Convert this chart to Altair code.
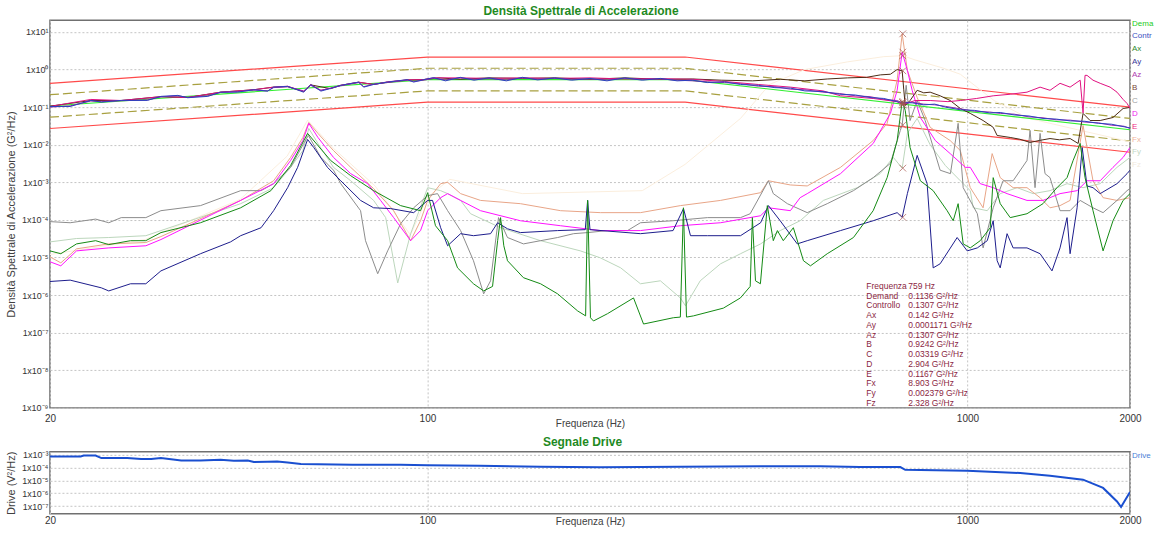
import altair as alt
import pandas as pd

FONT = "Liberation Sans"

# ---------------- profile (Demand) and tolerance lines ----------------
prof_f = [20, 100, 300, 2000]
demand_v = [0.107, 0.54, 0.54, 0.025]
abort_hi_v = [0.43, 2.15, 2.15, 0.1]
alarm_hi_v = [0.214, 1.08, 1.08, 0.05]
alarm_lo_v = [0.054, 0.27, 0.27, 0.0125]
abort_lo_v = [0.027, 0.135, 0.135, 0.0063]

# ---------------- control channels ----------------
ctrl_f = [20, 21.8, 23.8, 24.9, 27.1, 30.3, 32.1, 34.5, 36.0, 39.2, 41.4, 44.5, 47.7, 50.6, 51.9,
          55.1, 59.0, 60.8, 63.5, 66.2, 69.1, 74.6, 76.2, 79.5, 84.3, 91.8, 94.3, 98.4, 102.7, 108,
          115, 122, 130, 140, 150, 160, 172, 185, 200, 215, 232, 250, 270, 290, 310, 330, 355, 380,
          410, 440, 470, 500, 540, 580, 620, 660, 700, 740, 759, 790, 830, 870, 910, 970, 1030, 1100,
          1150, 1220, 1300, 1380, 1460, 1550, 1650, 1750, 1850, 1950, 2000]
ctrl_v = [0.104, 0.104, 0.151, 0.136, 0.151, 0.151, 0.193, 0.205, 0.178, 0.193, 0.25, 0.25, 0.29,
          0.267, 0.34, 0.356, 0.25, 0.396, 0.267, 0.314, 0.38, 0.464, 0.34, 0.40, 0.464, 0.538, 0.464,
          0.538, 0.61, 0.5, 0.62, 0.52, 0.6, 0.5, 0.62, 0.53, 0.6, 0.52, 0.58, 0.5, 0.6, 0.52, 0.58,
          0.5, 0.52, 0.45, 0.47, 0.4, 0.38, 0.33, 0.32, 0.27, 0.26, 0.22, 0.21, 0.18, 0.17, 0.14,
          0.131, 0.13, 0.115, 0.12, 0.1, 0.085, 0.082, 0.07, 0.072, 0.062, 0.058, 0.05, 0.048, 0.043,
          0.042, 0.037, 0.035, 0.03, 0.028]
az_v = [0.1, 0.108, 0.145, 0.14, 0.148, 0.155, 0.188, 0.2, 0.182, 0.2, 0.245, 0.26, 0.285, 0.27,
        0.33, 0.35, 0.27, 0.38, 0.28, 0.32, 0.37, 0.45, 0.35, 0.41, 0.45, 0.52, 0.48, 0.52, 0.58,
        0.53, 0.6, 0.55, 0.57, 0.53, 0.6, 0.55, 0.58, 0.55, 0.56, 0.53, 0.58, 0.55, 0.56, 0.52, 0.5,
        0.47, 0.45, 0.42, 0.36, 0.35, 0.3, 0.29, 0.25, 0.23, 0.2, 0.19, 0.16, 0.15, 0.1307, 0.135,
        0.12, 0.115, 0.105, 0.09, 0.078, 0.074, 0.068, 0.065, 0.055, 0.052, 0.046, 0.045, 0.04,
        0.038, 0.033, 0.031, 0.027]

e_f = [20, 23.8, 27.1, 32.1, 36.0, 41.4, 47.7, 51.9, 55.1, 59.0, 60.8, 63.5, 66.2, 69.1, 74.6,
       79.5, 84.3, 91.8, 98.4, 102.7, 115, 130, 150, 172, 200, 232, 270, 310, 355, 410, 470, 540,
       582, 669, 740, 759, 800, 853, 920, 970, 1040, 1116, 1200, 1289, 1363, 1422, 1484, 1549,
       1617, 1637, 1651, 1665, 1708, 1761, 1837, 1892, 1942, 1975, 2000]
e_v = [0.104, 0.16, 0.15, 0.19, 0.18, 0.25, 0.29, 0.34, 0.36, 0.26, 0.40, 0.28, 0.32, 0.38, 0.46,
       0.40, 0.47, 0.53, 0.54, 0.6, 0.6, 0.58, 0.6, 0.58, 0.6, 0.56, 0.57, 0.55, 0.48, 0.4, 0.34,
       0.27, 0.2, 0.17, 0.14, 0.1167, 0.15, 0.15, 0.14, 0.15, 0.17, 0.2, 0.22, 0.25, 0.34, 0.28,
       0.43, 0.34, 0.52, 0.07, 0.7, 0.7, 0.52, 0.43, 0.34, 0.25, 0.16, 0.125, 0.092]

b_f = [20, 23.8, 27.1, 32.1, 36.0, 41.4, 47.7, 51.9, 55.1, 59.0, 60.8, 66.2, 69.1, 74.6, 79.5,
       84.3, 91.8, 98.4, 105, 115, 130, 150, 172, 200, 232, 270, 310, 350, 400, 450, 500, 550,
       600, 650, 690, 720, 741, 757, 762, 767, 783, 807, 830, 853, 890, 929, 970, 1012, 1069, 1116,
       1135, 1200, 1250, 1306, 1360, 1422, 1480, 1549, 1603, 1637, 1687, 1761, 1860, 1942, 2000]
b_v = [0.106, 0.15, 0.15, 0.19, 0.18, 0.25, 0.29, 0.34, 0.35, 0.26, 0.39, 0.31, 0.38, 0.46, 0.4,
       0.46, 0.53, 0.54, 0.6, 0.55, 0.6, 0.58, 0.6, 0.55, 0.6, 0.55, 0.56, 0.52, 0.5, 0.55, 0.5,
       0.56, 0.6, 0.62, 0.72, 0.75, 1.0, 0.924, 0.3, 0.11, 0.15, 0.28, 0.24, 0.25, 0.2, 0.15, 0.092,
       0.068, 0.044, 0.029, 0.0176, 0.0156, 0.014, 0.0115, 0.013, 0.0146, 0.0135, 0.0146, 0.0108,
       0.068, 0.044, 0.044, 0.053, 0.092, 0.098]

# ---------------- response channels ----------------
ay_f = [20, 21.8, 24.9, 25.7, 28.2, 30.1, 32.1, 38.0, 43.2, 45.1, 49.2, 51.9, 55.1, 57.5, 60.0,
        61.6, 65.3, 69.1, 75.2, 79.5, 85.5, 94.3, 100.1, 102.2, 105.8, 109, 115.2, 121.7, 130.9,
        134.9, 140.7, 148.7, 174.2, 196, 198, 200, 248, 285, 298, 307, 330, 380, 414, 428, 450,
        484, 505, 582, 669, 741, 757, 774, 807, 842, 864, 890, 957, 999, 1043, 1088, 1116, 1135,
        1150, 1184, 1215, 1289, 1363, 1434, 1484, 1529, 1549, 1596, 1631, 1665, 1708, 1761, 1892,
        1975, 2000]
ay_v = [2.3e-6, 2.5e-6, 1.56e-6, 1.29e-6, 2.0e-6, 2.0e-6, 4.4e-6, 1.26e-5, 2.6e-5, 3.8e-5, 6.2e-5,
        1.76e-4, 7.2e-4, 2.5e-3, 1.38e-2, 8.4e-3, 2.5e-3, 1.1e-3, 3.3e-4, 2.1e-4, 2.0e-4, 1.56e-4,
        3.3e-4, 3.3e-4, 6.2e-5, 2.05e-5, 4.3e-5, 3.8e-5, 4.3e-5, 8.4e-5, 5.8e-5, 4.6e-5, 5.2e-5,
        5.5e-5, 3.3e-4, 5.5e-5, 4.3e-5, 5.2e-5, 2.0e-4, 3.8e-5, 3.8e-5, 3.8e-5, 8.4e-5, 2.4e-4,
        9.5e-5, 2.3e-5, 2.8e-5, 5.2e-5, 9.5e-5, 1.56e-4, 1.171e-4, 5.0e-4, 5.2e-3, 9.2e-4, 5.3e-6,
        6.8e-6, 3.4e-5, 1.5e-5, 1.8e-5, 2.8e-5, 9.5e-5, 8.2e-6, 5.3e-6, 4.3e-5, 1.8e-5, 1.8e-5,
        1.26e-5, 4.4e-6, 1.8e-5, 1.15e-4, 1.26e-5, 2.1e-4, 8.4e-3, 8.0e-4, 7.2e-4, 5.0e-4, 9.2e-4,
        1.7e-3, 2.1e-3]

ax_f = [20, 20.95, 22.4, 24.3, 25.7, 28.2, 30.1, 32.1, 38.0, 45.1, 51.3, 55.8, 60.0, 66.2, 72.1,
        79.5, 89.2, 97.1, 100.1, 103.5, 109, 113.7, 121.7, 127.1, 132, 134.9, 136.6, 138.5, 140.7,
        150.6, 162, 174.2, 189.7, 196.3, 198, 200.4, 203, 215.5, 240.8, 251.3, 285.4, 294, 297.9,
        301.8, 310.9, 353.2, 379.8, 396, 399.7, 405, 413.6, 426, 437, 444.7, 456, 476, 497, 512,
        550, 615, 669, 710, 741, 757, 767, 783, 818, 864, 917, 941, 961, 982, 1012, 1056, 1102,
        1116, 1150, 1200, 1289, 1380, 1465, 1529, 1569, 1617, 1651, 1708, 1783, 1860, 1942, 2000]
ax_v = [1.5e-5, 1.26e-5, 2.3e-5, 2.8e-5, 2.2e-5, 2.8e-5, 2.8e-5, 4.6e-5, 8.4e-5, 2.1e-4, 6.0e-4,
        2.8e-3, 2.0e-2, 3.8e-3, 1.5e-3, 6.0e-4, 2.4e-4, 1.76e-4, 5.3e-4, 7.0e-5, 2.8e-5, 5.3e-6,
        2.0e-6, 1.29e-6, 1.7e-6, 2.8e-5, 1.15e-4, 2.05e-5, 8.2e-6, 2.9e-6, 2.0e-6, 1.08e-6, 3.8e-7,
        2.8e-7, 3.3e-4, 2.5e-7, 2.05e-7, 3.2e-7, 8.4e-7, 1.7e-7, 2.5e-7, 2.6e-7, 2.1e-4, 2.6e-7,
        2.8e-7, 4.5e-7, 8.4e-7, 1.7e-6, 1.15e-4, 2.4e-6, 2.0e-6, 2.4e-4, 2.8e-5, 5.2e-5, 2.8e-5,
        6.2e-5, 8.2e-6, 6.0e-6, 1.26e-5, 3.4e-5, 1.76e-4, 1.33e-3, 1.29e-2, 0.142, 8.2e-2, 8.4e-3,
        1.1e-3, 6.0e-4, 1.76e-4, 9.5e-5, 2.7e-4, 2.3e-5, 1.8e-5, 2.8e-5, 6.2e-5, 1.33e-3, 2.7e-4,
        1.15e-4, 1.46e-4, 2.7e-4, 7.2e-4, 1.33e-3, 3.8e-3, 1.08e-2, 1.33e-3, 1.76e-4, 1.5e-5,
        9.5e-5, 3.3e-4, 5.0e-4]

c_f = [20, 21.8, 24.3, 25.7, 27.1, 30.1, 32.1, 38.0, 45.1, 49.2, 51.9, 55.8, 59.0, 60.2, 63.5,
       67.0, 69.1, 75.2, 76.8, 80.9, 84.4, 89.2, 94.3, 100.1, 104.4, 109, 115.2, 121.7, 127.1,
       130.9, 135.4, 140.7, 150.6, 162, 174.2, 186.5, 198, 215.5, 234.7, 248, 285, 330, 380, 396,
       428, 437, 464, 505, 550, 615, 669, 720, 751, 757, 770, 783, 807, 835, 890, 930, 961, 982,
       1043, 1069, 1116, 1164, 1215, 1289, 1306, 1334, 1363, 1392, 1422, 1484, 1549, 1617, 1708,
       1783, 1892, 1975, 2000]
c_v = [9.0e-5, 8.4e-5, 1.05e-4, 8.4e-5, 1.15e-4, 1.15e-4, 1.76e-4, 2.4e-4, 6.0e-4, 6.0e-4, 9.2e-4,
       2.5e-3, 1.08e-2, 1.76e-2, 4.6e-3, 2.1e-3, 9.2e-4, 1.76e-4, 2.8e-5, 3.7e-6, 1.5e-5, 7.9e-5,
       2.1e-4, 4.4e-4, 5.0e-4, 1.76e-4, 5.2e-5, 8.2e-6, 1.08e-6, 2.4e-6, 1.15e-4, 3.4e-5, 2.3e-5,
       2.8e-5, 3.4e-5, 4.3e-5, 4.6e-5, 5.2e-5, 5.2e-5, 8.4e-5, 9.5e-5, 1.15e-4, 1.15e-4, 1.46e-4,
       1.1e-3, 5.0e-4, 2.7e-4, 1.56e-4, 2.7e-4, 6.0e-4, 1.33e-3, 3.2e-3, 2.4e-2, 3.319e-2, 0.38,
       4.4e-2, 0.15, 4.4e-2, 2.1e-3, 1.7e-3, 3.7e-2, 7.2e-4, 1.46e-4, 1.8e-5, 2.1e-4, 1.1e-3,
       1.1e-3, 3.8e-3, 2.4e-2, 7.2e-4, 2.0e-2, 1.7e-3, 1.33e-3, 1.76e-4, 1.76e-4, 3.3e-4, 2.1e-4,
       1.56e-4, 3.3e-4, 6.0e-4, 6.8e-4]

d_f = [20, 20.95, 22.4, 25.7, 30.1, 32.1, 45.1, 51.9, 55.8, 58.8, 60.3, 62.7, 67.0, 72.1, 77.5,
       81.9, 86.6, 93.1, 97.1, 100.1, 105.8, 109, 115.2, 125.4, 148.7, 176.4, 209, 248, 294, 349,
       414, 428, 470, 490, 505, 582, 669, 720, 741, 757, 774, 790, 818, 872, 929, 991, 1012, 1056,
       1116, 1184, 1289, 1380, 1484, 1596, 1665, 1761, 1860, 1942, 2000]
d_v = [7.7e-6, 6.0e-6, 1.5e-5, 1.8e-5, 2.05e-5, 3.0e-5, 3.3e-4, 9.2e-4, 3.8e-3, 1.29e-2, 3.7e-2,
       1.56e-2, 4.6e-3, 1.7e-3, 9.2e-4, 3.3e-4, 1.15e-4, 2.8e-5, 5.2e-5, 1.76e-4, 3.9e-4, 5.0e-4,
       3.3e-4, 1.76e-4, 9.5e-5, 7.0e-5, 5.2e-5, 5.2e-5, 7.0e-5, 8.4e-5, 1.29e-4, 2.1e-4, 1.76e-4,
       3.9e-4, 5.0e-4, 1.7e-3, 1.08e-2, 6.8e-2, 0.28, 2.904, 0.95, 0.28, 5.3e-2, 1.29e-2, 5.8e-3,
       2.5e-3, 2.5e-3, 9.2e-4, 7.2e-4, 5.0e-4, 3.3e-4, 3.3e-4, 5.0e-4, 6.0e-4, 1.1e-3, 1.1e-3,
       2.5e-3, 4.6e-3, 8.4e-3]

fx_f = [20, 20.95, 22.4, 25.7, 30.1, 32.1, 45.1, 51.9, 55.8, 58.8, 60.3, 62.7, 67.0, 72.1, 79.5,
        86.6, 93.1, 97.1, 100.1, 105.8, 109, 115.2, 125.4, 148.7, 176.4, 209, 248, 294, 349, 414,
        428, 470, 505, 582, 669, 710, 741, 757, 774, 807, 853, 929, 970, 1012, 1069, 1111, 1150,
        1215, 1289, 1363, 1422, 1484, 1549, 1637, 1708, 1783, 1892, 2000]
fx_v = [1.04e-5, 7.2e-6, 1.7e-5, 2.3e-5, 2.5e-5, 3.6e-5, 3.3e-4, 1.1e-3, 4.6e-3, 1.56e-2, 3.9e-2,
        2.0e-2, 7.0e-3, 2.5e-3, 6.8e-4, 1.76e-4, 2.8e-5, 9.5e-5, 3.3e-4, 9.2e-4, 1.0e-3, 5.0e-4,
        3.3e-4, 2.7e-4, 1.76e-4, 1.56e-4, 1.56e-4, 2.4e-4, 3.3e-4, 5.3e-4, 1.1e-3, 8.5e-4, 8.0e-4,
        2.5e-3, 1.29e-2, 3.7e-2, 0.52, 8.903, 0.95, 0.18, 2.9e-2, 1.29e-2, 7.0e-3, 7.2e-4, 2.1e-4,
        5.8e-3, 1.33e-3, 7.2e-4, 7.2e-4, 3.9e-4, 2.1e-4, 2.4e-4, 3.3e-4, 3.25e-2, 1.1e-3, 3.9e-4,
        3.3e-4, 3.9e-4]

fy_f = [20, 22.4, 25.7, 30.1, 32.1, 45.1, 51.9, 55.8, 58.8, 60.3, 62.7, 67.0, 72.1, 79.5, 83.7,
        88.1, 93.1, 100.1, 105.8, 109, 115.2, 120.2, 136.6, 162, 192, 209, 228, 248, 270, 294,
        300.5, 320, 349, 380, 414, 450, 490, 541, 625, 689, 729, 757, 774, 807, 853, 910, 970, 1012,
        1025, 1088, 1150, 1236, 1323, 1422, 1529, 1637, 1761, 1892, 2000]
fy_v = [2.6e-5, 3.2e-5, 3.4e-5, 3.8e-5, 5.2e-5, 2.7e-4, 7.2e-4, 2.5e-3, 7.0e-3, 2.7e-2, 1.08e-2,
        2.5e-3, 1.1e-3, 3.3e-4, 1.15e-4, 2.1e-6, 4.3e-5, 7.2e-4, 6.0e-4, 5.0e-4, 3.3e-4, 1.46e-4,
        6.2e-5, 2.8e-5, 1.5e-5, 9.8e-6, 5.3e-6, 2.0e-6, 2.4e-6, 8.4e-7, 5.2e-7, 2.4e-6, 6.8e-6,
        1.26e-5, 2.3e-5, 5.2e-5, 9.5e-5, 3.3e-4, 7.2e-4, 1.7e-3, 4.6e-3, 2.379e-3, 2.0e-2, 5.0e-2,
        1.0e-2, 2.8e-3, 1.1e-3, 6.0e-4, 2.1e-4, 1.76e-4, 5.0e-4, 7.2e-4, 5.0e-4, 6.0e-4, 9.2e-4,
        7.2e-4, 9.2e-4, 2.5e-3, 4.6e-3]

fz_f = [20, 30, 45, 55, 60, 67, 80, 93, 100, 110, 150, 250, 300, 380, 430, 500, 600, 700, 759,
        800, 900, 970, 1120, 1300, 1600, 2000]
fz_v = [1.2e-5, 3.0e-5, 3.5e-4, 5.0e-3, 4.5e-2, 8.0e-3, 8.0e-4, 4.0e-5, 4.0e-4, 1.2e-3, 5.0e-4,
        6.0e-4, 3.0e-3, 5.0e-2, 0.4, 1.0, 1.6, 2.2, 2.328, 1.8, 1.1, 0.75, 0.15, 0.05, 0.025, 0.012]

# ---------------- drive ----------------
drv_f = [20, 20.1, 22.8, 23.1, 24.3, 24.9, 27.8, 29.5, 30.8, 32.1, 35.0, 38.0, 41.4, 43.8, 46.5,
         47.7, 50.6, 52.7, 55.1, 58.3, 72.6, 89.2, 100, 125, 162, 209, 294, 414, 534, 632, 751,
         767, 999, 1252, 1422, 1637, 1783, 1892, 1925, 2000]
drv_v = [7.4e-4, 7.4e-4, 7.4e-4, 8.8e-4, 8.8e-4, 5.5e-4, 5.5e-4, 4.6e-4, 4.6e-4, 5.5e-4, 3.6e-4,
         3.6e-4, 4.1e-4, 3.4e-4, 3.6e-4, 2.7e-4, 2.85e-4, 3.0e-4, 2.5e-4, 1.9e-4, 1.66e-4, 1.66e-4,
         1.5e-4, 1.4e-4, 1.17e-4, 1.07e-4, 1.17e-4, 1.27e-4, 1.27e-4, 1.1e-4, 1.1e-4, 6.8e-5,
         5.7e-5, 3.8e-5, 2.3e-5, 1.14e-5, 2.6e-6, 2.3e-7, 8.5e-8, 1.26e-6]

# ---------------- cursor read-out at 759 Hz ----------------
cursor_f = 759
cursor_names = ["Demand", "Controllo", "Ax", "Ay", "Az", "B", "C", "D", "E", "Fx", "Fy", "Fz"]
cursor_vals = [0.1136, 0.1307, 0.142, 0.0001171, 0.1307, 0.9242, 0.03319, 2.904, 0.1167, 8.903,
               0.002379, 2.328]
cursor_txt = ["0.1136", "0.1307", "0.142", "0.0001171", "0.1307", "0.9242", "0.03319", "2.904",
              "0.1167", "8.903", "0.002379", "2.328"]

legend_names = ["Demand", "Controllo", "Ax", "Ay", "Az", "B", "C", "D", "E", "Fx", "Fy", "Fz"]
legend_colors = ["#22cc22", "#3a4fc0", "#2f8a2f", "#3a3a9a", "#b040b0", "#7a4a3a", "#a0a0a0",
                 "#ee22ee", "#ee2a80", "#f0b49c", "#c4d8c4", "#f2eadc"]

# ---------------- styling ----------------
W = 1081
H_TOP = 388
H_BOT = 62
GRID = "#c4c4c4"
TXT = "#333333"
CUR = "#8b1f3f"
TITLE_COL = "#1f8a1f"
SUP = "['⁰','¹','²','³','⁴','⁵','⁶','⁷','⁸','⁹']"
LABEL_EXPR = ("datum.value > 5 ? '1x10¹' : (datum.value > 0.5 ? '1x10⁰' : '1x10⁻' + "
              + SUP + "[round(-log(datum.value)/LN10)])")

xscale = alt.Scale(type="log", domain=[20, 2000], nice=False)


def x_axis(label_pad, title_y):
    return alt.Axis(values=[20, 100, 1000, 2000], title="Frequenza (Hz)", format="d",
                    labelFontSize=10, labelColor=TXT, labelFlush=False, labelPadding=label_pad,
                    titleFontSize=10, titleColor="#404040", titleFontWeight="normal",
                    titleY=title_y, titleBaseline="middle",
                    grid=True, gridColor=GRID, gridDash=[2, 2], tickSize=0, domain=False)


def y_axis(values, title):
    return alt.Axis(values=values, labelExpr=LABEL_EXPR, title=title, labelFontSize=9,
                    labelColor=TXT, labelPadding=2, titleFontSize=11, titleColor="#404040",
                    titleFontWeight="normal", titlePadding=3, minExtent=30, maxExtent=30,
                    grid=True, gridColor=GRID, gridDash=[2, 2], tickSize=0, domain=False)


X_TOP = alt.X("f:Q", scale=xscale, axis=x_axis(6, 16))
Y_TOP = alt.Y("v:Q", scale=alt.Scale(type="log", domain=[1e-9, 20.5], nice=False),
              axis=y_axis([10, 1, 0.1, 1e-2, 1e-3, 1e-4, 1e-5, 1e-6, 1e-7, 1e-8, 1e-9],
                          "Densità Spettrale di Accelerazione (G²/Hz)"))
X_BOT = alt.X("f:Q", scale=xscale, axis=x_axis(2, 8))
Y_BOT = alt.Y("v:Q", scale=alt.Scale(type="log", domain=[2.5e-8, 1.7e-3], nice=False),
              axis=y_axis([1e-3, 1e-4, 1e-5, 1e-6, 1e-7], "Drive (V²/Hz)"))


def line(f, v, color, width=1.0, dash=None, X=X_TOP, Y=Y_TOP):
    mk = dict(color=color, strokeWidth=width, clip=True)
    if dash:
        mk["strokeDash"] = dash
    return alt.Chart(pd.DataFrame({"f": f, "v": v})).mark_line(**mk).encode(x=X, y=Y)


def label(text, x, y, color, size=8, align="left", baseline="middle", lh=None, bold=False,
          limit=None):
    kw = dict(align=align, baseline=baseline, fontSize=size, color=color, font=FONT)
    if lh:
        kw["lineHeight"] = lh
        kw["lineBreak"] = "\n"
    if bold:
        kw["fontWeight"] = "bold"
    if limit:
        kw["limit"] = limit
        kw["ellipsis"] = "\u200b"
    return alt.Chart(pd.DataFrame({"t": [text]})).mark_text(**kw).encode(
        text="t:N", x=alt.value(x), y=alt.value(y))


top_layers = [
    line(prof_f, abort_hi_v, "#ff4a4a", 1.2),
    line(prof_f, abort_lo_v, "#ff4a4a", 1.2),
    line(prof_f, alarm_hi_v, "#a8a040", 1.2, [9, 4]),
    line(prof_f, alarm_lo_v, "#a8a040", 1.2, [9, 4]),
    line(fz_f, fz_v, "#fbeedd"),
    line(fy_f, fy_v, "#bcd6bc"),
    line(fx_f, fx_v, "#e8a587"),
    line(c_f, c_v, "#8c8c8c"),
    line(d_f, d_v, "#ff10ff"),
    line(ay_f, ay_v, "#1c1c8c"),
    line(ax_f, ax_v, "#138a13"),
    line(prof_f, demand_v, "#33ee33", 1.2),
    line(b_f, b_v, "#4a2a14"),
    line(e_f, e_v, "#e0107f"),
    line(ctrl_f, az_v, "#9a2aa8"),
    line(ctrl_f, ctrl_v, "#2a3fc0"),
]

markers = alt.Chart(pd.DataFrame({"f": [cursor_f] * len(cursor_vals), "v": cursor_vals})).mark_point(
    shape="M-1,-1L1,1M-1,1L1,-1", size=45, filled=False, color="#a8564e", strokeWidth=1
).encode(x=X_TOP, y=Y_TOP)
top_layers.append(markers)

top_layers.append(label("\n".join(["Frequenza"] + cursor_names), 817, 262, CUR, 8.5,
                        baseline="top", lh=9.75))
top_layers.append(label("\n".join([f"{cursor_f} Hz"] + [t + " G²/Hz" for t in cursor_txt]),
                        859, 262, CUR, 8.5, baseline="top", lh=9.75))
for i, (n, col) in enumerate(zip(legend_names, legend_colors)):
    top_layers.append(label(n, 1083, 3.3 + 12.9 * i, col, limit=23))
# chart title as a text mark above the plot area
top_layers.append(label("Densità Spettrale di Accelerazione", 531.5, -9, TITLE_COL, 12,
                        align="center", bold=True))

top = alt.layer(*top_layers).properties(width=W, height=H_TOP)

bot = alt.layer(
    line(drv_f, drv_v, "#1a4fd0", 2.0, X=X_BOT, Y=Y_BOT),
    label("Drive", 1083, 4, "#4a7fd6", limit=23),
    label("Segnale Drive", 533, -10, TITLE_COL, 12, align="center", bold=True),
).properties(width=W, height=H_BOT)

chart = alt.vconcat(top, bot, spacing=5).properties(
    padding={"left": 5, "top": 4, "right": 0, "bottom": 0}
).configure(font=FONT).configure_view(stroke="#707070", strokeWidth=1.5)

chart.save("out.html", embed_options={"renderer": "svg", "actions": False})
